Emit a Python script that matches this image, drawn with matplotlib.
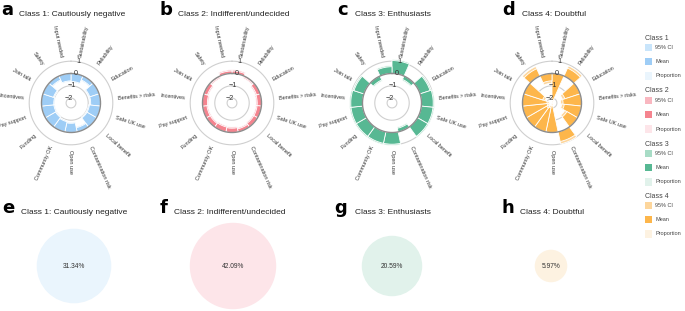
import numpy as np
import matplotlib
matplotlib.use("Agg")
import matplotlib.pyplot as plt
from matplotlib.patches import Rectangle

# ---------------- data ----------------
categories = ["Sustainability", "Reliability", "Education", "Benefits > risks",
              "Safe UK use", "Local benefit", "Contamination risk", "Open use",
              "Community OK", "Funding", "Pay support", "Incentives",
              "Join talk", "Safety", "Input needed"]

class_titles = ["Class 1: Cautiously negative", "Class 2: Indifferent/undecided",
                "Class 3: Enthusiasts", "Class 4: Doubtful"]
class_names = ["Class 1", "Class 2", "Class 3", "Class 4"]

mean_c1 = [-0.65, -0.35, -0.80, -0.80, -0.90, -0.90, -0.35, -0.75, -0.85, -0.95, -1.00, -1.00, -0.90, -0.35, -0.60]
mean_c2 = [0.20, -0.10, -0.30, -0.35, -0.35, -0.35, -0.25, -0.35, -0.40, -0.35, -0.35, -0.40, -0.30, -0.10, 0.20]
mean_c3 = [1.05, -0.30, 0.85, 0.95, 0.95, 0.95, -0.30, 0.95, 0.95, 0.95, 0.95, 0.95, 0.85, -0.35, 0.55]
mean_c4 = [-2.20, 0.70, -1.30, -1.50, -1.40, -1.00, 0.80, -2.20, -2.00, -1.90, -2.00, -2.00, -1.60, 0.65, -0.60]

ci_c1 = [0.08, 0.08, 0.08, 0.08, 0.08, 0.08, 0.08, 0.08, 0.08, 0.08, 0.08, 0.08, 0.08, 0.08, 0.08]
ci_c2 = [0.10, 0.10, 0.10, 0.10, 0.10, 0.10, 0.10, 0.10, 0.10, 0.10, 0.10, 0.10, 0.10, 0.10, 0.10]
ci_c3 = [0.10, 0.10, 0.10, 0.10, 0.10, 0.10, 0.10, 0.10, 0.10, 0.10, 0.10, 0.10, 0.10, 0.10, 0.10]
ci_c4 = [0.20, 0.20, 0.20, 0.20, 0.20, 0.20, 0.20, 0.20, 0.20, 0.20, 0.20, 0.20, 0.20, 0.20, 0.20]

proportions = [31.34, 42.09, 20.59, 5.97]

radial_ticks = [1, 0, -1, -2]

# ---------------- styles ----------------
mean_colors = ["#9ecdf6", "#f5848f", "#57b893", "#fdb64b"]
ci_colors = ["#c9e5fb", "#f9b7c0", "#a8dcc6", "#fdd69c"]
prop_colors = ["#eaf5fd", "#fde5e9", "#e1f2eb", "#fdf2e1"]

means = [mean_c1, mean_c2, mean_c3, mean_c4]
cis = [ci_c1, ci_c2, ci_c3, ci_c4]

W, H = 685, 311
fig = plt.figure(figsize=(W / 100, H / 100), dpi=100)
plt.rcParams['font.family'] = ['Liberation Sans', 'DejaVu Sans']

RMIN, RMAX = -2.4, 1.6
unit_px = 12.3
rad_px = (RMAX - RMIN) * unit_px
centers_x = [71, 232, 392, 552]
center_y = 103

n = len(categories)
theta = np.deg2rad(12 + 24 * np.arange(n))
width = 2 * np.pi / n
circ = np.linspace(0, 2 * np.pi, 300)

for i in range(4):
    cx = centers_x[i]
    ax = fig.add_axes([(cx - rad_px) / W, 1 - (center_y + rad_px) / H,
                       2 * rad_px / W, 2 * rad_px / H], projection='polar')
    ax.set_theta_zero_location('N')
    ax.set_theta_direction(-1)
    ax.set_ylim(RMIN, RMAX)
    ax.grid(False)
    ax.set_xticks([])
    ax.set_yticks([])
    ax.spines['polar'].set_visible(False)
    ax.patch.set_visible(False)

    m = np.array(means[i])
    c = np.array(cis[i])
    # grid circles
    for v in radial_ticks:
        if v == 0:
            continue
        ax.plot(circ, np.full_like(circ, v), color="#cfcfcf", lw=0.8, zorder=1)
    ax.bar(theta, 2 * c, bottom=m - c, width=width, color=ci_colors[i],
           edgecolor='white', linewidth=0.6, zorder=2)
    ax.bar(theta, m, bottom=0, width=width, color=mean_colors[i],
           edgecolor='white', linewidth=0.6, zorder=3)
    ax.plot(circ, np.zeros_like(circ), color="#8c8c8c", lw=1.0, zorder=4)

    # radial tick labels
    lab_ang = {1: 10, 0: 10, -1: 3, -2: -22}
    for v in radial_ticks:
        ax.text(np.deg2rad(lab_ang[v]), v, "\u2212%d" % abs(v) if v < 0 else str(v),
                ha='center', va='center', fontsize=5.2, color="#333333", zorder=6)

    # category labels
    for k in range(n):
        a = 12 + 24 * k
        if a <= 180:
            rot, ha = 90 - a, 'left'
        else:
            rot, ha = 270 - a, 'right'
        ax.text(theta[k], 1.42, categories[k], rotation=rot, rotation_mode='anchor',
                ha=ha, va='center', fontsize=4.0, color="#333333", clip_on=False)

# ---------------- overlay: titles, proportions, legend ----------------
ov = fig.add_axes([0, 0, 1, 1])
ov.set_xlim(0, W)
ov.set_ylim(H, 0)
ov.axis('off')
ov.patch.set_visible(False)

letters_top = ["a", "b", "c", "d"]
letters_bot = ["e", "f", "g", "h"]
letter_x_top = [1, 160, 337, 502]
title_x_top = [19, 178, 355, 522]
letter_x_bot = [2, 160, 334, 502]
title_x_bot = [21, 174, 355, 520]

for i in range(4):
    ov.text(letter_x_top[i], 15, letters_top[i], fontsize=13, fontweight='heavy',
            family='DejaVu Sans', ha='left', va='baseline', color='black')
    ov.text(title_x_top[i], 15.5, class_titles[i], fontsize=6, ha='left',
            va='baseline', color='#222222')
    ov.text(letter_x_bot[i], 213, letters_bot[i], fontsize=13, fontweight='heavy',
            family='DejaVu Sans', ha='left', va='baseline', color='black')
    ov.text(title_x_bot[i], 213.5, class_titles[i], fontsize=6, ha='left',
            va='baseline', color='#222222')

prop_x = [74, 233, 392, 551]
prop_y = 266
ov.scatter(prop_x, [prop_y] * 4, s=[p * 92 for p in proportions],
           c=prop_colors, edgecolors='none', zorder=2)
for i in range(4):
    ov.text(prop_x[i], prop_y, "%.2f%%" % proportions[i], fontsize=4.8,
            ha='center', va='center', color='#333333', zorder=3)

# legend
leg_title_y = [38, 91, 144, 196]
item_dy = [9.5, 23.5, 38]
item_names = ["95% CI", "Mean", "Proportion"]
for i in range(4):
    ov.text(645, leg_title_y[i], class_names[i], fontsize=5.0, ha='left',
            va='center', color='#444444')
    cols = [ci_colors[i], mean_colors[i], prop_colors[i]]
    for j in range(3):
        yy = leg_title_y[i] + item_dy[j]
        ov.add_patch(Rectangle((645, yy - 3.7), 7.5, 7.5, facecolor=cols[j],
                               edgecolor='none'))
        ov.text(655.5, yy, item_names[j], fontsize=4.0, ha='left', va='center',
                color='#444444')

fig.savefig("out.png", dpi=100, facecolor='white')
